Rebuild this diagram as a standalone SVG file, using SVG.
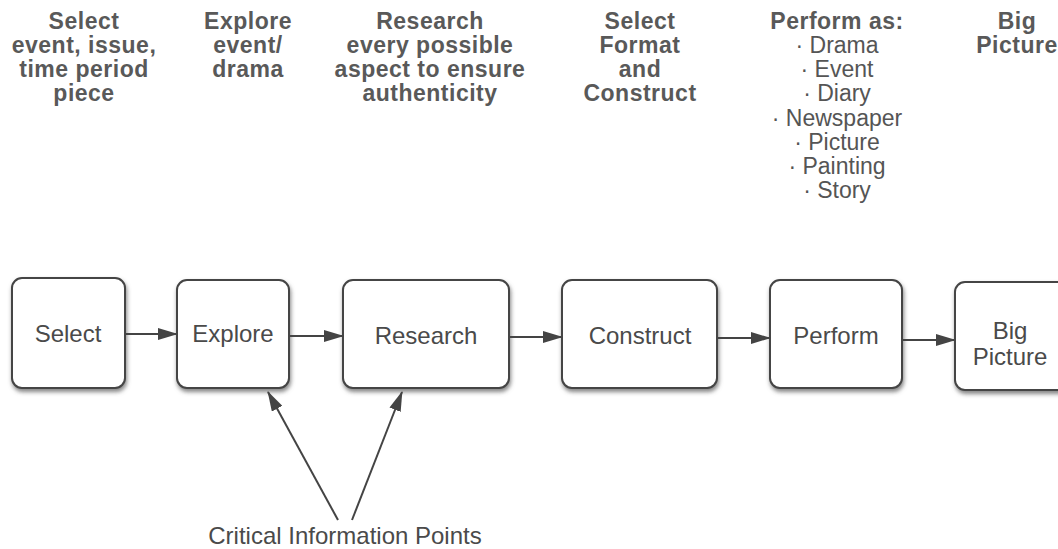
<svg xmlns="http://www.w3.org/2000/svg" width="1058" height="549" viewBox="0 0 1058 549">
  <style>
    .hdr { font-family: "Liberation Sans", Arial, sans-serif; font-size: 23px; font-weight: bold; fill: #595959; text-anchor: middle; letter-spacing: 0.5px; }
    .lst { font-family: "Liberation Sans", Arial, sans-serif; font-size: 23px; fill: #555; text-anchor: middle; }
    .lbl { font-family: "Liberation Sans", Arial, sans-serif; font-size: 24px; fill: #4a4a4a; text-anchor: middle; }
    .box { fill: #ffffff; stroke: #444; stroke-width: 2; filter: url(#shadow); }
    .conn { stroke: #444; stroke-width: 2; fill: none; marker-end: url(#arrow); }
  </style>
  <defs>
    <filter id="shadow" x="-10%" y="-10%" width="130%" height="130%">
      <feDropShadow dx="1" dy="3" stdDeviation="2" flood-color="#666" flood-opacity="0.8"/>
    </filter>
    <marker id="arrow" viewBox="0 0 20 12" refX="19" refY="6" markerWidth="20" markerHeight="12" markerUnits="userSpaceOnUse" orient="auto">
      <path d="M0,0 L20,6 L0,12 Z" fill="#444"/>
    </marker>
  </defs>
  <rect width="1058" height="549" fill="#ffffff"/>

  <g id="header-labels">
    <text class="hdr" x="84" y="29">Select</text>
    <text class="hdr" x="84" y="53">event, issue,</text>
    <text class="hdr" x="84" y="77">time period</text>
    <text class="hdr" x="84" y="101">piece</text>

    <text class="hdr" x="248" y="29">Explore</text>
    <text class="hdr" x="248" y="53">event/</text>
    <text class="hdr" x="248" y="77">drama</text>

    <text class="hdr" x="430" y="29">Research</text>
    <text class="hdr" x="430" y="53">every possible</text>
    <text class="hdr" x="430" y="77">aspect to ensure</text>
    <text class="hdr" x="430" y="101">authenticity</text>

    <text class="hdr" x="640" y="29">Select</text>
    <text class="hdr" x="640" y="53">Format</text>
    <text class="hdr" x="640" y="77">and</text>
    <text class="hdr" x="640" y="101">Construct</text>

    <text class="hdr" x="837" y="29">Perform as:</text>
    <text class="lst" x="837" y="53">· Drama</text>
    <text class="lst" x="837" y="77">· Event</text>
    <text class="lst" x="837" y="101">· Diary</text>
    <text class="lst" x="837" y="126">· Newspaper</text>
    <text class="lst" x="837" y="150">· Picture</text>
    <text class="lst" x="837" y="174">· Painting</text>
    <text class="lst" x="837" y="198">· Story</text>

    <text class="hdr" x="1017" y="29">Big</text>
    <text class="hdr" x="1017" y="53">Picture</text>
  </g>

  <g id="node-select">
    <rect class="box" x="12" y="278" width="113" height="110" rx="10"/>
    <text class="lbl" x="68" y="342">Select</text>
  </g>
  <g id="node-explore">
    <rect class="box" x="177" y="280" width="112" height="108" rx="10"/>
    <text class="lbl" x="233" y="342">Explore</text>
  </g>
  <g id="node-research">
    <rect class="box" x="343" y="280" width="166" height="108" rx="10"/>
    <text class="lbl" x="426" y="344">Research</text>
  </g>
  <g id="node-construct">
    <rect class="box" x="562" y="280" width="155" height="108" rx="10"/>
    <text class="lbl" x="640" y="344">Construct</text>
  </g>
  <g id="node-perform">
    <rect class="box" x="770" y="280" width="132" height="108" rx="10"/>
    <text class="lbl" x="836" y="344">Perform</text>
  </g>
  <g id="node-bigpicture">
    <rect class="box" x="955" y="282" width="120" height="108" rx="10"/>
    <text class="lbl" x="1010" y="339">Big</text>
    <text class="lbl" x="1010" y="365">Picture</text>
  </g>

  <g id="node-critical">
    <text class="lbl" x="345" y="544">Critical Information Points</text>
  </g>

  <g id="connectors">
    <line class="conn" x1="125" y1="334" x2="177" y2="334"/>
    <line class="conn" x1="289" y1="336" x2="343" y2="336"/>
    <line class="conn" x1="509" y1="337" x2="562" y2="337"/>
    <line class="conn" x1="717" y1="338" x2="770" y2="338"/>
    <line class="conn" x1="902" y1="340" x2="955" y2="340"/>
    <line class="conn" x1="338" y1="520" x2="268" y2="392"/>
    <line class="conn" x1="352" y1="520" x2="402" y2="392"/>
  </g>
</svg>
